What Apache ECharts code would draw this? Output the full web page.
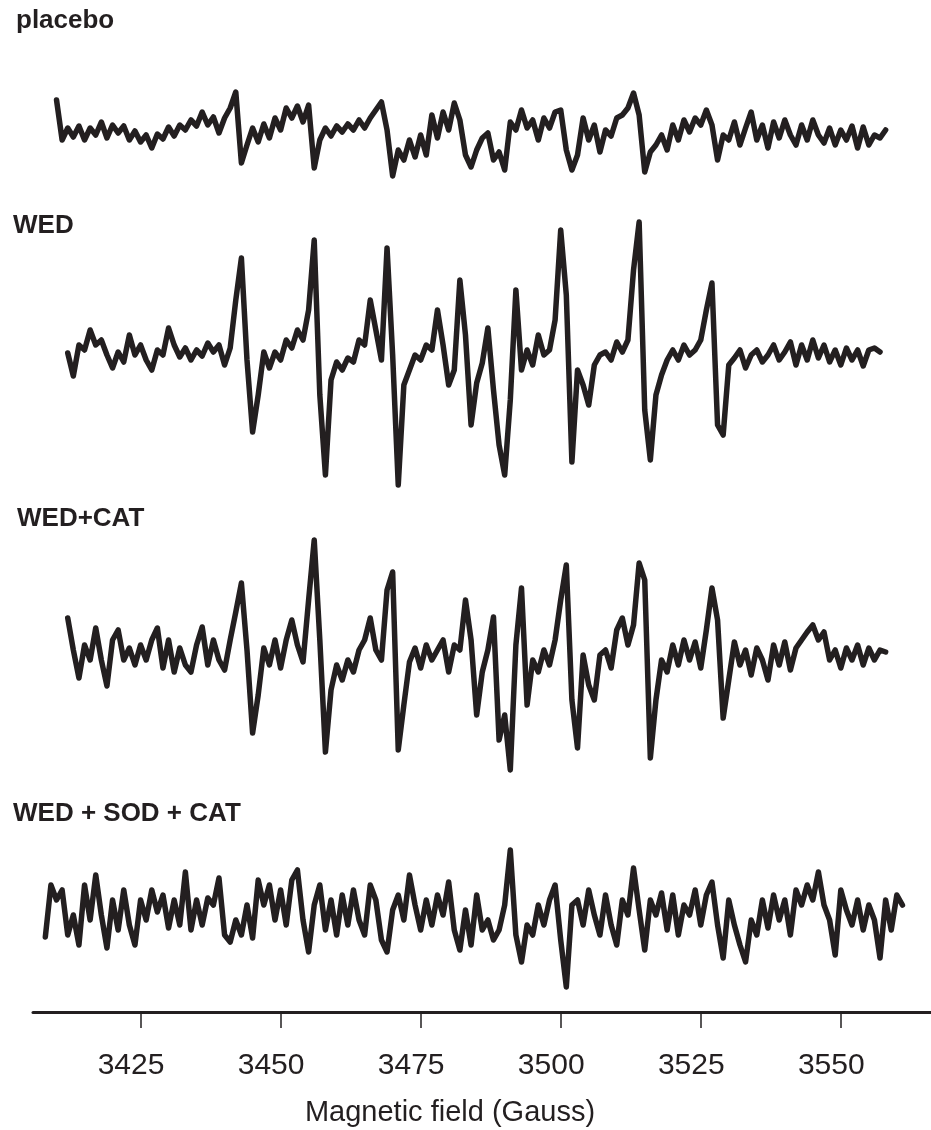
<!DOCTYPE html>
<html>
<head>
<meta charset="utf-8">
<script src="https://cdn.jsdelivr.net/npm/echarts@6/dist/echarts.min.js"></script>
<style>
html, body { margin: 0; padding: 0; background: #fff; }
#chart { width: 931px; height: 1130px; }
</style>
</head>
<body>
<div id="chart"></div>
<script>
// EPR spectra, one value per Gauss, signal in arbitrary units (0 = baseline)
const placeboStart = 3410;
const placebo = [
  35, -5, 7, -2, 9, -5, 7, 0, 13, -3,
  10, 2, 9, -5, 4, -7, 0, -13, 1, -4,
  8, -1, 10, 5, 15, 9, 23, 10, 18, 2,
  17, 27, 43, -28, -10, 7, -7, 11, -3, 17,
  5, 27, 17, 29, 13, 30, -33, -5, 7, -1,
  9, 3, 11, 5, 15, 7, 17, 25, 33, 5,
  -41, -15, -25, -5, -22, 0, -20, 20, -3, 23,
  5, 32, 15, -20, -32, -15, -3, 2, -25, -17,
  -35, 13, 5, 25, 7, 15, -5, 17, 7, 23,
  25, -15, -35, -20, 17, -5, 10, -17, 5, -1,
  17, 20, 27, 42, 20, -37, -17, -10, 0, -15,
  10, -5, 15, 3, 17, 10, 25, 10, -25, 0,
  -5, 13, -10, 7, 23, -5, 10, -13, 13, -3,
  15, 0, -10, 10, -5, 15, 0, -8, 7, -10,
  5, -5, 9, -13, 8, -10, 0, -3, 5
];

const wedStart = 3412;
const wed = [
  2, -21, 10, 5, 25, 10, 15, 0, -13, 3,
  -7, 20, 0, 10, -5, -15, 5, 0, 27, 10,
  -2, 7, -5, 5, -1, 12, 3, 10, -10, 7,
  55, 97, -5, -77, -40, 3, -13, 3, -5, 15,
  7, 25, 15, 45, 115, -40, -120, -25, -7, -15,
  -3, -7, 15, 10, 55, 25, -5, 107, 0, -130,
  -30, -15, 0, -5, 10, 5, 45, 10, -30, -15,
  75, 20, -70, -28, -8, 27, -35, -90, -120, -45,
  65, -15, 5, -10, 20, 0, 5, 35, 125, 60,
  -107, -15, -30, -50, -10, 0, 3, -5, 13, 3,
  15, 85, 133, -55, -105, -40, -20, -5, 5, -5,
  10, 0, 5, 15, 45, 72, -70, -80, -10, -3,
  5, -13, 0, 5, -7, 0, 10, -5, 3, 13,
  -10, 10, -5, 15, -3, 10, -7, 5, -10, 7,
  -5, 5, -11, 5, 7, 3
];

const wedCatStart = 3412;
const wedCat = [
  37, 5, -23, 10, -5, 27, -5, -31, 15, 25,
  -5, 7, -10, 10, -5, 15, 27, -13, 15, -17,
  7, -10, -17, 10, 28, -10, 15, -5, -15, 15,
  43, 72, 5, -78, -40, 7, -10, 15, -13, 15,
  35, 10, -7, 55, 115, 15, -97, -35, -10, -25,
  -5, -17, 5, 15, 37, 5, -5, 65, 83, -95,
  -50, -7, 7, -13, 10, -5, 5, 15, -17, 10,
  5, 55, 15, -60, -17, 5, 38, -85, -60, -115,
  10, 67, -50, -5, -17, 5, -10, 15, 55, 90,
  -45, -93, 0, -30, -45, 0, 5, -13, 25, 37,
  10, 30, 92, 75, -103, -45, -5, -17, 10, -10,
  15, -5, 13, -13, 25, 67, 35, -63, -25, 13,
  -10, 5, -20, 7, -5, -25, 10, -10, 13, -15,
  7, 15, 23, 30, 15, 23, -5, 5, -13, 7,
  -5, 10, -10, 7, -5, 5, 3
];

const wedSodCatStart = 3408;
const wedSodCat = [
  -22, 30, 15, 25, -20, 0, -30, 30, -5, 40,
  0, -33, 15, -15, 25, -10, -30, 15, -5, 25,
  3, 20, -13, 15, -10, 43, -15, 15, -10, 17,
  10, 37, -20, -27, -5, -20, 10, -23, 35, 10,
  30, -5, 25, -10, 35, 45, -5, -37, 10, 30,
  -15, 15, -20, 20, -10, 25, -5, -20, 30, 15,
  -25, -37, 5, 20, -5, 40, 10, -15, 15, -10,
  20, 0, 33, -15, -35, 5, -30, 20, -15, -5,
  -25, -15, 10, 65, -20, -47, -10, -20, 10, -10,
  15, 30, -25, -72, 10, 15, -10, 25, 0, -20,
  20, -10, -30, 15, 0, 47, 5, -35, 15, 0,
  22, -15, 20, -20, 10, 0, 25, -10, 20, 33,
  -10, -43, 15, -10, -30, -47, -5, -20, 15, -13,
  20, -5, 15, -20, 25, 10, 30, 15, 43, 10,
  -5, -40, 25, 5, -10, 15, -15, 10, -5, -43,
  15, -15, 20, 10
];

const fieldTicks = [3425, 3450, 3475, 3500, 3525, 3550];
const panelLabels = ['placebo', 'WED', 'WED+CAT', 'WED + SOD + CAT'];
const axisTitle = 'Magnetic field (Gauss)';

const FIELD_MIN = 3405.8;
const FIELD_MAX = 3566.1;
const ink = '#231f20';
const font = '"Liberation Sans", Arial, Helvetica, sans-serif';

function toPairs(start, values) {
  return values.map((v, i) => [start + i, v]);
}

// stacked panels, one grid each; y in the same units (1 unit = 1 px)
const panels = [
  { top: 75, height: 120, start: placeboStart, data: placebo, label: { x: 16, y: 21 } },
  { top: 205, height: 300, start: wedStart, data: wed, label: { x: 13, y: 226 } },
  { top: 525, height: 260, start: wedCatStart, data: wedCat, label: { x: 17, y: 519 } },
  { top: 835, height: 160, start: wedSodCatStart, data: wedSodCat, label: { x: 13, y: 814 } },
];

const grids = panels.map((p) => ({
  left: 33, right: 0, top: p.top, height: p.height,
  containLabel: false, outerBoundsMode: 'none',
}));
grids.push({ left: 33, right: 0, top: 1000, height: 12, containLabel: false, outerBoundsMode: 'none' });

const xAxes = panels.map((p, i) => ({
  gridIndex: i, type: 'value', min: FIELD_MIN, max: FIELD_MAX, show: false,
}));
xAxes.push({
  gridIndex: 4,
  type: 'value',
  min: FIELD_MIN,
  max: FIELD_MAX,
  position: 'bottom',
  axisLine: { show: true, onZero: false, lineStyle: { color: ink, width: 3 } },
  axisTick: { show: true, length: 16, customValues: fieldTicks, lineStyle: { color: ink, width: 1.5 } },
  axisLabel: {
    show: true,
    customValues: fieldTicks,
    formatter: (v) => String(v),
    fontSize: 30,
    fontFamily: font,
    color: ink,
    margin: 39,
    padding: [0, 19, 0, 0],
  },
  splitLine: { show: false },
});

const yAxes = panels.map((p, i) => ({
  gridIndex: i, type: 'value', min: -p.height / 2, max: p.height / 2, show: false,
}));
yAxes.push({ gridIndex: 4, type: 'value', show: false });

const series = panels.map((p, i) => ({
  type: 'line',
  xAxisIndex: i,
  yAxisIndex: i,
  data: toPairs(p.start, p.data),
  showSymbol: false,
  symbol: 'none',
  clip: false,
  lineStyle: { color: ink, width: 5.5, join: 'round', cap: 'round' },
  silent: true,
}));

const graphics = panels.map((p, i) => ({
  type: 'text',
  x: p.label.x,
  y: p.label.y,
  style: {
    text: panelLabels[i],
    font: 'bold 26px ' + font,
    fill: ink,
    textAlign: 'left',
    textVerticalAlign: 'middle',
  },
}));
graphics.push({
  type: 'text',
  x: 450,
  y: 1113,
  style: {
    text: axisTitle,
    font: '29px ' + font,
    fill: ink,
    textAlign: 'center',
    textVerticalAlign: 'middle',
  },
});

const chart = echarts.init(document.getElementById('chart'), null, { renderer: 'canvas' });
chart.setOption({
  animation: false,
  backgroundColor: '#ffffff',
  textStyle: { fontFamily: font },
  grid: grids,
  xAxis: xAxes,
  yAxis: yAxes,
  series: series,
  graphic: graphics,
});
</script>
</body>
</html>
